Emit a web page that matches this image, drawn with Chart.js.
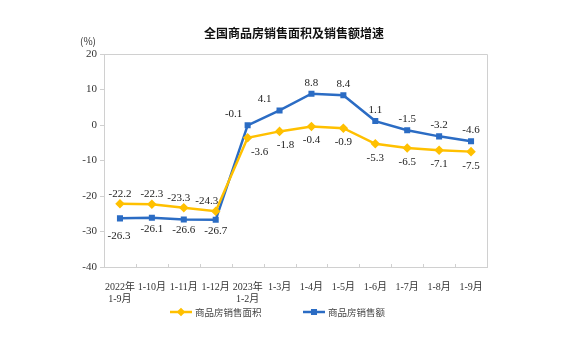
<!DOCTYPE html>
<html>
<head>
<meta charset="utf-8">
<script src="https://cdn.jsdelivr.net/npm/chart.js@4"></script>
<style>
  body { margin: 0; background: #fff; }
  #wrap { width: 581px; height: 351px; }
</style>
</head>
<body>
<div id="wrap"><canvas id="lineChart" width="581" height="351"></canvas></div>
<script>
// data
var months = [['2022年', '1-9月'], '1-10月', '1-11月', '1-12月', ['2023年', '1-2月'], '1-3月', '1-4月', '1-5月', '1-6月', '1-7月', '1-8月', '1-9月'];
var areaGrowth = [-22.2, -22.3, -23.3, -24.3, -3.6, -1.8, -0.4, -0.9, -5.3, -6.5, -7.1, -7.5];
var salesGrowth = [-26.3, -26.1, -26.6, -26.7, -0.1, 4.1, 8.8, 8.4, 1.1, -1.5, -3.2, -4.6];
var yTicks = [20, 10, 0, -10, -20, -30, -40];

var YELLOW = '#FFC000';
var BLUE = '#2B6CC4';
var serif = "'Liberation Serif', 'Noto Sans CJK SC', serif";

// small nudges so labels sit like the original
var nudge = {
  '1-0': [-1, 7], '1-4': [-14, 0], '1-5': [-15, 0],
  '0-4': [12, 0], '0-5': [6, 0], '0-2': [-5, 0], '0-3': [-9, 0]
};

var extras = {
  id: 'extras',
  afterDraw: function (chart) {
    var ctx = chart.ctx, a = chart.chartArea;
    ctx.save();
    // box
    ctx.strokeStyle = '#d0d0d0';
    ctx.lineWidth = 1;
    ctx.beginPath();
    ctx.moveTo(a.left, a.top + 0.5); ctx.lineTo(a.right + 0.5, a.top + 0.5); ctx.lineTo(a.right + 0.5, a.bottom);
    ctx.stroke();
    // inner ticks on x axis at category boundaries
    var xs = chart.scales.x;
    for (var i = 1; i < months.length; i++) {
      var px = Math.round((xs.getPixelForValue(i - 1) + xs.getPixelForValue(i)) / 2) + 0.5;
      ctx.beginPath(); ctx.moveTo(px, a.bottom); ctx.lineTo(px, a.bottom - 3); ctx.stroke();
    }
    // value labels
    ctx.font = '11px ' + serif;
    ctx.fillStyle = '#222';
    ctx.textAlign = 'center';
    ctx.textBaseline = 'middle';
    chart.data.datasets.forEach(function (ds, d) {
      var meta = chart.getDatasetMeta(d);
      meta.data.forEach(function (pt, i) {
        var dy;
        if (d === 0) dy = i < 4 ? -10 : 14;
        else dy = i < 4 ? 11 : -11;
        var n = nudge[d + '-' + i] || [0, 0];
        ctx.fillText(ds.data[i].toFixed(1), pt.x + n[0], pt.y + dy + n[1]);
      });
    });
    // title and unit
    ctx.fillStyle = '#111';
    ctx.font = "bold 12px 'Noto Sans CJK SC', sans-serif";
    ctx.fillText('全国商品房销售面积及销售额增速', 294, 33);
    ctx.font = "10px 'Noto Sans CJK SC', sans-serif";
    ctx.fillStyle = '#333';
    ctx.fillText('(%)', 88, 41);
    // legend
    var items = [{ t: '商品房销售面积', c: YELLOW, s: 'rectRot', x: 170 }, { t: '商品房销售额', c: BLUE, s: 'rect', x: 303 }];
    items.forEach(function (it) {
      var y = 312;
      ctx.strokeStyle = it.c; ctx.lineWidth = 2.5;
      ctx.beginPath(); ctx.moveTo(it.x, y); ctx.lineTo(it.x + 22, y); ctx.stroke();
      Chart.helpers.drawPoint(ctx, { pointStyle: it.s, radius: 2.5, borderWidth: 1 }, it.x + 11, y);
      ctx.fillStyle = it.c;
      ctx.fill();
      ctx.fillStyle = '#444';
      ctx.textAlign = 'left';
      ctx.font = "9.5px 'Noto Sans CJK SC', sans-serif";
      ctx.fillText(it.t, it.x + 25, y);
    });
    ctx.restore();
  }
};

var ctxLine = document.getElementById('lineChart').getContext('2d');
var lineChart = new Chart(ctxLine, {
  type: 'line',
  data: {
    labels: months,
    datasets: [{
      label: '商品房销售面积',
      data: areaGrowth,
      borderColor: YELLOW,
      backgroundColor: YELLOW,
      borderWidth: 2.5,
      pointStyle: 'rectRot',
      pointRadius: 3,
      tension: 0
    }, {
      label: '商品房销售额',
      data: salesGrowth,
      borderColor: BLUE,
      backgroundColor: BLUE,
      borderWidth: 2.5,
      pointStyle: 'rect',
      pointRadius: 2.5,
      tension: 0
    }]
  },
  options: {
    responsive: false,
    animation: false,
    layout: { padding: { left: 0, right: 94, top: 54, bottom: 0 } },
    plugins: { legend: { display: false }, tooltip: { enabled: false }, title: { display: false } },
    scales: {
      x: {
        offset: true,
        grid: { display: false },
        border: { color: '#d0d0d0' },
        ticks: { color: '#333', font: { family: serif, size: 10 }, padding: 6, maxRotation: 0, autoSkip: false },
        afterFit: function (s) { s.height = 84; }
      },
      y: {
        min: -40, max: 20,
        afterBuildTicks: function (s) { s.ticks = yTicks.map(function (v) { return { value: v }; }); },
        grid: { drawOnChartArea: false, tickLength: 4, color: '#d0d0d0' },
        border: { color: '#d0d0d0' },
        ticks: { color: '#333', font: { family: serif, size: 11 }, padding: 3 },
        afterFit: function (s) { s.width = 104; }
      }
    }
  },
  plugins: [extras]
});
</script>
</body>
</html>
